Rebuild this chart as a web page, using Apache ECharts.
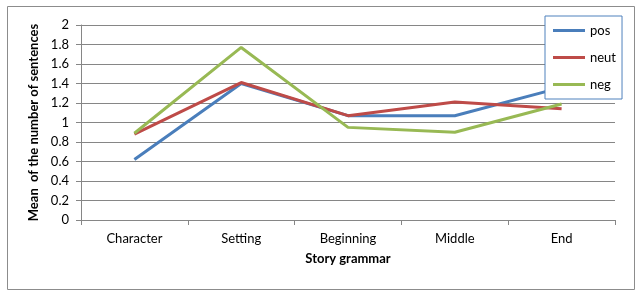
<!DOCTYPE html>
<html>
<head>
<meta charset="utf-8">
<script src="https://cdn.jsdelivr.net/npm/echarts@6/dist/echarts.min.js"></script>
<style>
html, body { margin: 0; padding: 0; background: #fff; }
#main { width: 643px; height: 298px; }
</style>
</head>
<body>
<div id="main"></div>
<script>
// categories and values
var storyParts = ['Character', 'Setting', 'Beginning', 'Middle', 'End'];
var posData = [0.62, 1.40, 1.07, 1.07, 1.36];
var neutData = [0.88, 1.41, 1.07, 1.21, 1.14];
var negData = [0.89, 1.77, 0.95, 0.90, 1.19];
var seriesNames = ['pos', 'neut', 'neg'];
var lineColors = ['#4A7EBB', '#BE4B48', '#98B954'];

var myChart = echarts.init(document.getElementById('main'));

var option = {
    animation: false,
    color: lineColors,
    textStyle: {
        fontFamily: 'Lato'
    },
    // outer frame of the chart
    graphic: [{
        type: 'rect',
        shape: { x: 7.5, y: 6.5, width: 627, height: 283 },
        style: { fill: 'none', stroke: '#8c8c8c', lineWidth: 1 },
        silent: true
    }],
    grid: {
        left: 81,
        top: 25,
        width: 534,
        height: 195
    },
    legend: {
        orient: 'vertical',
        left: 545,
        top: 16,
        data: seriesNames,
        icon: 'rect',
        itemWidth: 32,
        itemHeight: 3,
        itemGap: 12,
        padding: [7, 6, 7, 8],
        backgroundColor: '#fff',
        borderColor: '#4F81BD',
        borderWidth: 1,
        borderRadius: 0,
        textStyle: {
            fontFamily: 'Lato',
            fontSize: 13,
            lineHeight: 15,
            color: '#000'
        }
    },
    xAxis: {
        type: 'category',
        data: storyParts,
        boundaryGap: true,
        name: 'Story grammar',
        nameLocation: 'middle',
        nameGap: 32,
        nameTextStyle: {
            fontWeight: 'bold',
            fontSize: 13,
            color: '#000'
        },
        axisLine: { lineStyle: { color: '#868686' } },
        axisTick: { show: true, length: 5, lineStyle: { color: '#868686' } },
        axisLabel: { margin: 12, fontSize: 13, color: '#000' }
    },
    yAxis: {
        type: 'value',
        min: 0,
        max: 2,
        interval: 0.2,
        name: 'Mean  of the number of sentences',
        nameLocation: 'middle',
        nameGap: 39,
        nameTextStyle: {
            fontWeight: 'bold',
            fontSize: 13,
            color: '#000'
        },
        axisLine: { show: true, lineStyle: { color: '#868686' } },
        axisTick: { show: true, length: 5, lineStyle: { color: '#868686' } },
        axisLabel: { margin: 12, fontSize: 13, color: '#000' },
        splitLine: { lineStyle: { color: '#868686' } }
    },
    series: [{
        name: 'pos',
        type: 'line',
        data: posData,
        symbol: 'none',
        lineStyle: { width: 3 }
    }, {
        name: 'neut',
        type: 'line',
        data: neutData,
        symbol: 'none',
        lineStyle: { width: 3 }
    }, {
        name: 'neg',
        type: 'line',
        data: negData,
        symbol: 'none',
        lineStyle: { width: 3 }
    }]
};

myChart.setOption(option);
</script>
</body>
</html>
